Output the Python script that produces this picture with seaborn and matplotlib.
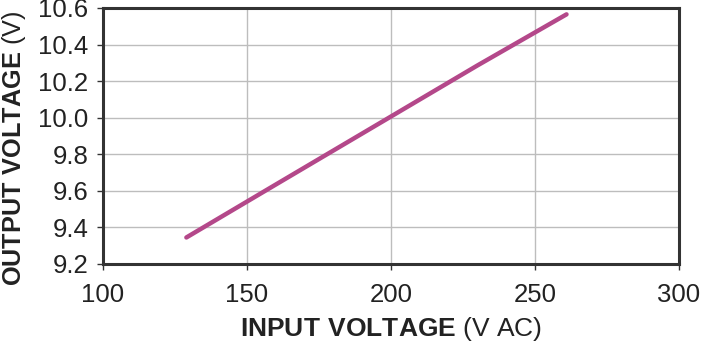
import seaborn as sns
import matplotlib.pyplot as plt
import pandas as pd

# Data
input_voltage = [129, 160, 200, 230, 261]
output_voltage = [9.345, 9.634, 10.006, 10.285, 10.565]
x_ticks = [100, 150, 200, 250, 300]
y_ticks = [9.2, 9.4, 9.6, 9.8, 10.0, 10.2, 10.4, 10.6]

df = pd.DataFrame({"vin": input_voltage, "vout": output_voltage})

sns.set_style("white")
plt.rcParams["font.family"] = ["Liberation Sans", "DejaVu Sans"]
plt.rcParams["mathtext.fontset"] = "custom"
plt.rcParams["mathtext.rm"] = "Liberation Sans"
plt.rcParams["mathtext.bf"] = "Liberation Sans:bold"

fig, ax = plt.subplots(figsize=(7.02, 3.46), dpi=100)
fig.subplots_adjust(left=0.1465, right=0.967, top=0.977, bottom=0.237)

sns.lineplot(data=df, x="vin", y="vout", ax=ax, color="#B4488A", linewidth=3.2)

ax.set_xlim(100, 300)
ax.set_ylim(9.2, 10.6)
ax.set_xticks(x_ticks)
ax.set_yticks(y_ticks)
ax.set_yticklabels([f"{v:.1f}" for v in y_ticks])
ax.grid(True, color="#bdbdbd", linewidth=1.0)
ax.set_axisbelow(True)

for s in ax.spines.values():
    s.set_color("#333333")
    s.set_linewidth(2.2)

ax.tick_params(axis="both", labelsize=18.5, colors="#333333", labelcolor="#222222",
               length=4, width=1.0, direction="out", left=True, bottom=True)
ax.tick_params(axis="x", pad=10)
ax.tick_params(axis="y", pad=6.5)

ax.set_xlabel(r"$\bf{INPUT\ VOLTAGE}$ (V AC)", fontsize=19, color="#222222")
ax.set_ylabel(r"$\bf{OUTPUT\ VOLTAGE}$ (V)", fontsize=18.2, color="#222222")
ax.xaxis.set_label_coords(0.5, -0.253)
ax.yaxis.set_label_coords(-0.154, 0.452)
ax.xaxis.label.set_va("center")
ax.yaxis.label.set_va("center")

plt.savefig("out.png", dpi=100)
